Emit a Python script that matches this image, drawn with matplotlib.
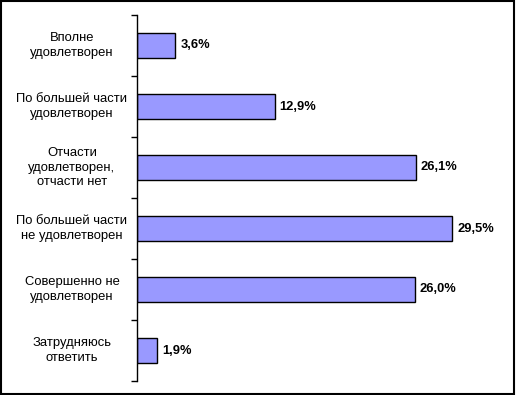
import numpy as np
import matplotlib
matplotlib.use("Agg")
import matplotlib.pyplot as plt
from matplotlib.transforms import blended_transform_factory

categories = [
    "Вполне\nудовлетворен",
    "По большей части\nудовлетворен",
    "Отчасти\nудовлетворен,\nотчасти нет",
    "По большей части\nне удовлетворен",
    "Совершенно не\nудовлетворен",
    "Затрудняюсь\nответить",
]
values = [3.6, 12.9, 26.1, 29.5, 26.0, 1.9]
value_labels = ["3,6%", "12,9%", "26,1%", "29,5%", "26,0%", "1,9%"]

plt.rcParams['font.family'] = ['Liberation Sans', 'DejaVu Sans']

fig = plt.figure(figsize=(5.16, 3.95), dpi=100)
ax = fig.add_axes([137 / 516, 1 - 381 / 395, 374 / 516, 366 / 395])

y = np.arange(len(categories))
ax.barh(y, values, height=0.4, color="#9999FF", edgecolor="black", linewidth=1)

for yi, v, lab in zip(y, values, value_labels):
    ax.text(v + 0.45, yi, lab, va="center", ha="left", fontsize=9.3, fontweight="bold")

ax.set_xlim(0, 35)
ax.set_ylim(len(categories) - 0.5, -0.5)
ax.set_xticks([])

# ticks between categories
ax.set_yticks(np.arange(len(categories) + 1) - 0.5)
ax.set_yticklabels([])
ax.tick_params(axis="y", which="major", direction="out", length=4, width=1)

# category labels centred left of the axis
trans = blended_transform_factory(fig.transFigure, ax.transData)
for yi, cat in zip(y, categories):
    ax.text(72 / 516, yi, cat, transform=trans, ha="center", va="center",
            fontsize=9.4, multialignment="center", linespacing=1.3)

for s in ["top", "right", "bottom"]:
    ax.spines[s].set_visible(False)
ax.spines["left"].set_linewidth(1)

# outer frame
fig.patches.append(plt.Rectangle((0.001, 0.002), 0.996, 0.996, transform=fig.transFigure,
                                 fill=False, edgecolor="black", linewidth=1.5))

fig.savefig("out.png", dpi=100)
